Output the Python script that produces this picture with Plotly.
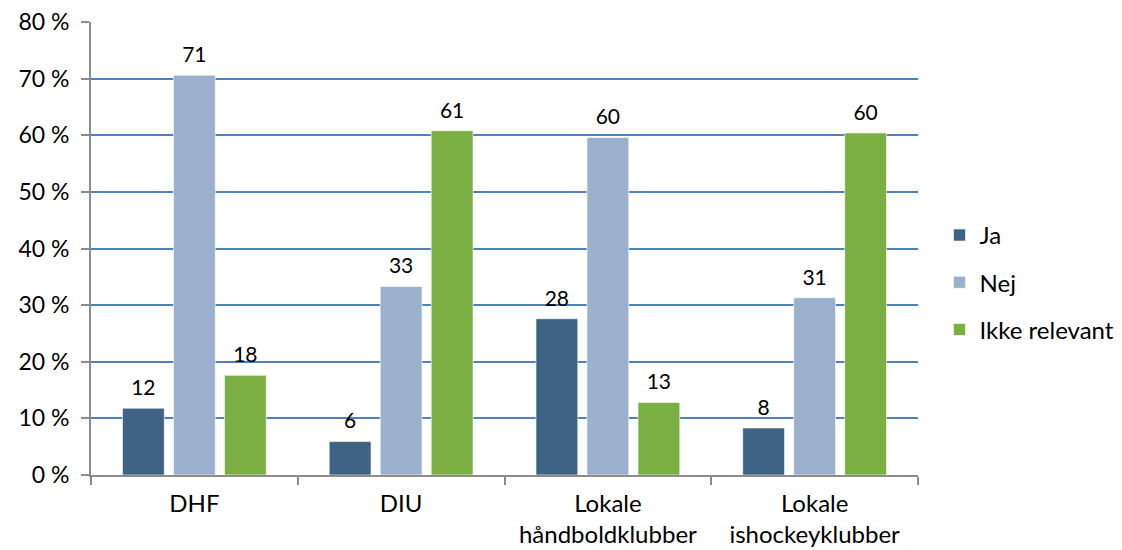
import plotly.graph_objects as go

categories = ["DHF", "DIU", "Lokale<br>håndboldklubber", "Lokale<br>ishockeyklubber"]
ja = [11.8, 5.9, 27.6, 8.3]
nej = [70.6, 33.3, 59.6, 31.3]
ikke = [17.6, 60.8, 12.8, 60.4]
series = [("Ja", ja, "#3F6384"), ("Nej", nej, "#9BB0CD"), ("Ikke relevant", ikke, "#7BAF41")]
y_ticks = [0, 10, 20, 30, 40, 50, 60, 70, 80]
y_tick_text = ["0 %", "10 %", "20 %", "30 %", "40 %", "50 %", "60 %", "70 %", "80 %"]

FONT = "Lato, Noto Sans, sans-serif"

fig = go.Figure()
for i, (name, vals, col) in enumerate(series):
    fig.add_trace(go.Bar(
        x=categories, y=vals, name=name,
        marker=dict(color=col, line=dict(color="rgba(255,255,255,0.6)", width=1)),
        texttemplate="<span style='font-size:21px'>%{y:.0f}</span><br> ", textposition="outside",
        textfont=dict(size=7, color="#000000", family=FONT),
        cliponaxis=False, legendgroup=str(i),
    ))

fig.update_layout(
    width=1122, height=550,
    margin=dict(l=83, r=212, t=14, b=83, autoexpand=False),
    paper_bgcolor="white", plot_bgcolor="white",
    barmode="group", bargap=0.26, bargroupgap=0.18,
    font=dict(family=FONT, size=21, color="#000000"),
    showlegend=True,
    legend=dict(x=1.026, y=0.425, xanchor="left", yanchor="middle",
                font=dict(size=24, family=FONT), traceorder="grouped",
                tracegroupgap=13, itemwidth=30),
    uniformtext=dict(mode=False),
)
fig.update_xaxes(
    showline=True, linecolor="#8C8C8C", linewidth=2,
    ticks="outside", tickson="boundaries", ticklen=8, tickcolor="#8C8C8C", tickwidth=2,
    tickfont=dict(size=24, family=FONT), showgrid=False, ticklabelstandoff=6,
    ticklabeloverflow="allow",
)
fig.update_yaxes(
    range=[0, 80], tickmode="array", tickvals=y_ticks, ticktext=y_tick_text,
    showline=True, linecolor="#8C8C8C", linewidth=2,
    ticks="outside", ticklen=8, tickcolor="#8C8C8C", tickwidth=2,
    showgrid=True, gridcolor="#4F81BD", gridwidth=1.5,
    tickfont=dict(size=23, family=FONT), zeroline=False, ticklabelstandoff=7,
    ticklabeloverflow="allow",
)
fig.write_html("out.html")
